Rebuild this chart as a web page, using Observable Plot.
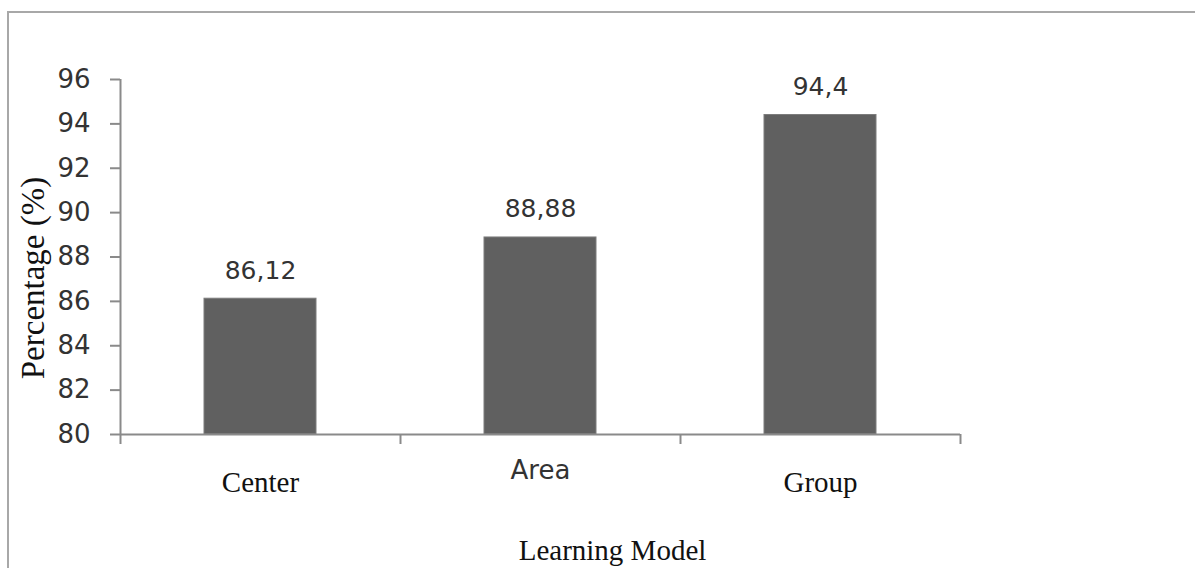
<!DOCTYPE html>
<html><head><meta charset="utf-8">
<script src="https://cdn.jsdelivr.net/npm/d3@7"></script>
<script src="https://cdn.jsdelivr.net/npm/@observablehq/plot@0.6"></script>
<style>
html,body{margin:0;padding:0;background:#fff;overflow:hidden;}
#wrap{position:relative;width:1195px;height:568px;overflow:hidden;}
#border{position:absolute;left:7px;top:11px;width:1220px;height:620px;border:2px solid #a8a8a8;pointer-events:none;}
</style></head><body>
<div id="wrap"><div id="chart"></div><div id="border"></div></div>
<script>
const categories = ["Center", "Area", "Group"];
const values = [86.12, 88.88, 94.4];
const valueLabels = ["86,12", "88,88", "94,4"];
const yTicks = [80, 82, 84, 86, 88, 90, 92, 94, 96];
const yDomain = [80, 96];
const xTitle = "Learning Model";
const yTitle = "Percentage (%)";

const data = categories.map((c, i) => ({category: c, value: values[i], label: valueLabels[i]}));

const W = 1195, H = 568, mL = 120, mR = 235, mT = 79, mB = 134;
const step = (W - mL - mR) / categories.length;
const sans = "DejaVu Sans, Verdana, sans-serif";
const serif = "Liberation Serif, Times New Roman, serif";
const axisColor = "#8a8a8a";
const sansCats = new Set(["Area"]);

const chart = Plot.plot({
  width: W, height: H,
  marginLeft: mL, marginRight: mR, marginTop: mT, marginBottom: mB,
  style: {background: "transparent", overflow: "visible"},
  x: {domain: categories, paddingInner: 0.6, paddingOuter: 0.3, axis: null},
  y: {domain: yDomain, axis: null},
  marks: [
    Plot.barY(data, {x: "category", y1: yDomain[0], y2: "value", fill: "#606060", stroke: "#7c7c7c", strokeWidth: 1}),
    // y axis line
    Plot.ruleX([categories[0]], {x: d => d, dx: -step / 2, y1: yDomain[0], y2: yDomain[1], stroke: axisColor, strokeWidth: 2}),
    // x axis line
    Plot.ruleY([yDomain[0]], {stroke: axisColor, strokeWidth: 2}),
    // x boundary ticks
    Plot.ruleX(categories, {x: d => d, dx: -step / 2, y1: yDomain[0], y2: yDomain[0], insetBottom: -10, stroke: axisColor, strokeWidth: 2}),
    Plot.ruleX([categories[categories.length - 1]], {x: d => d, dx: step / 2, y1: yDomain[0], y2: yDomain[0], insetBottom: -10, stroke: axisColor, strokeWidth: 2}),
    // y ticks
    Plot.axisY({ticks: yTicks, tickSize: 10, tickPadding: 20, tickFormat: d => String(d), label: null,
      fontSize: 26, fontFamily: sans, stroke: axisColor, strokeWidth: 2, fill: "#333"}),
    // value labels
    Plot.text(data, {x: "category", y: "value", text: "label", dy: -28, fontSize: 25, fontFamily: sans, fill: "#333"}),
    // x category labels
    Plot.text(data.filter(d => !sansCats.has(d.category)), {x: "category", y: yDomain[0], text: "category", dy: 48, fontSize: 29, fontFamily: serif, fill: "#111"}),
    Plot.text(data.filter(d => sansCats.has(d.category)), {x: "category", y: yDomain[0], text: "category", dy: 36, fontSize: 26, fontFamily: sans, fill: "#333"}),
    // axis titles
    Plot.text([xTitle], {frameAnchor: "bottom", text: d => d, dx: 72, dy: 116, fontSize: 29, fontFamily: serif, fill: "#111", textAnchor: "middle", lineAnchor: "middle"}),
    Plot.text([yTitle], {frameAnchor: "left", text: d => d, rotate: -90, dx: -87, dy: 21, fontSize: 33, fontFamily: serif, fill: "#111", textAnchor: "middle", lineAnchor: "middle"})
  ]
});
document.getElementById("chart").appendChild(chart);
</script>
</body></html>
